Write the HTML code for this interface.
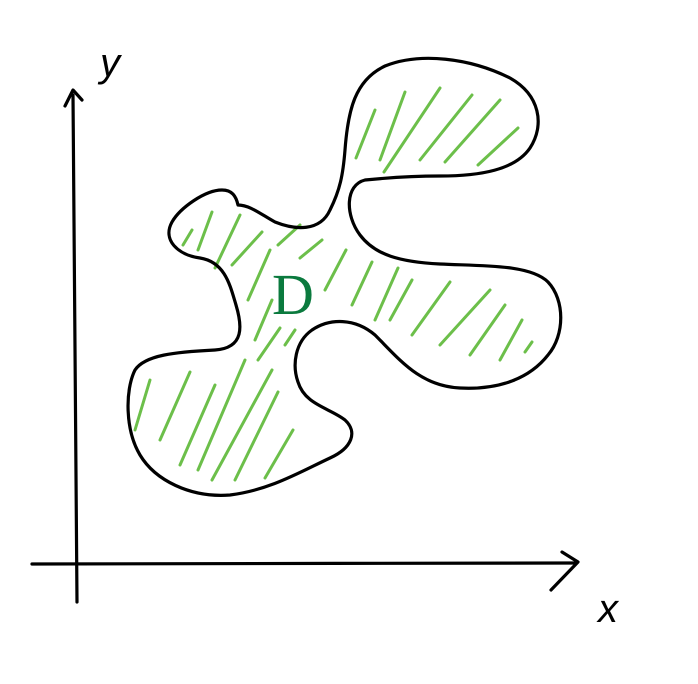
<!DOCTYPE html>
<html>
<head>
<meta charset="utf-8">
<style>
  html,body{margin:0;padding:0;background:#fff;}
  svg{display:block;}
</style>
</head>
<body>
<svg width="698" height="684" viewBox="0 0 698 684">
  <g stroke="#000" stroke-width="3.2" fill="none" stroke-linecap="round" stroke-linejoin="round">
    <path d="M77,602 C76,480 75,300 73,95"/>
    <path d="M65,106 L73,90 L82,100"/>
    <path d="M32,564 C200,564 400,563 575,563"/>
    <path d="M562,552 L578,562 L551,590"/>
  </g>
  <text x="598" y="622" font-size="40" font-style="italic" fill="#000" font-family="Liberation Sans, sans-serif">x</text>
  <text x="100" y="76" font-size="40" font-style="italic" fill="#000" font-family="Liberation Sans, sans-serif">y</text>

  <g stroke="#6cbf4a" stroke-width="3" fill="none" stroke-linecap="round">
    <path d="M356,158 L375,110"/>
    <path d="M380,160 L405,92"/>
    <path d="M384,172 L440,88"/>
    <path d="M420,160 L472,95"/>
    <path d="M445,162 L500,100"/>
    <path d="M478,165 L518,128"/>
    <path d="M183,245 L192,230"/>
    <path d="M198,250 L212,212"/>
    <path d="M215,268 L240,215"/>
    <path d="M232,265 L262,232"/>
    <path d="M248,300 L270,250"/>
    <path d="M278,245 L300,225"/>
    <path d="M300,258 L322,240"/>
    <path d="M325,290 L346,250"/>
    <path d="M352,305 L372,262"/>
    <path d="M375,320 L398,268"/>
    <path d="M390,320 L412,280"/>
    <path d="M412,335 L450,282"/>
    <path d="M440,345 L490,290"/>
    <path d="M470,355 L505,305"/>
    <path d="M500,360 L522,320"/>
    <path d="M525,352 L532,342"/>
    <path d="M255,340 L272,300"/>
    <path d="M258,360 L280,328"/>
    <path d="M285,345 L295,330"/>
    <path d="M135,430 L150,380"/>
    <path d="M160,440 L190,372"/>
    <path d="M180,465 L215,385"/>
    <path d="M198,470 L245,360"/>
    <path d="M212,480 L272,370"/>
    <path d="M235,480 L278,392"/>
    <path d="M265,478 L293,430"/>
  </g>

  <path fill="none" stroke="#000" stroke-width="3.2" stroke-linejoin="round"
    d="M345,150 C348,110 355,80 385,66 C420,52 470,58 510,78 C540,95 545,125 530,148
       C515,170 480,176 440,176 C410,176 385,178 365,180 C345,185 345,215 360,235
       C375,255 400,262 440,264 C480,266 530,264 548,282 C565,300 565,335 548,355
       C530,378 500,390 460,388 C420,386 400,360 375,335 C355,318 330,318 312,330
       C295,342 292,365 298,382 C305,405 330,408 345,420 C358,432 352,448 330,458
       C300,472 270,490 230,495 C190,498 155,480 140,455 C125,430 125,390 135,370
       C145,355 175,352 215,350 C245,348 242,325 236,305 C230,285 225,262 200,258
       C178,255 162,240 172,222 C180,208 205,190 222,190 C232,190 236,196 238,205
       C250,205 262,215 275,222 C295,230 320,232 330,210 C340,190 343,175 345,150 Z"/>

  <text x="272" y="314" font-size="58" fill="#0b7a3e" font-family="Liberation Serif, serif">D</text>
</svg>
</body>
</html>
